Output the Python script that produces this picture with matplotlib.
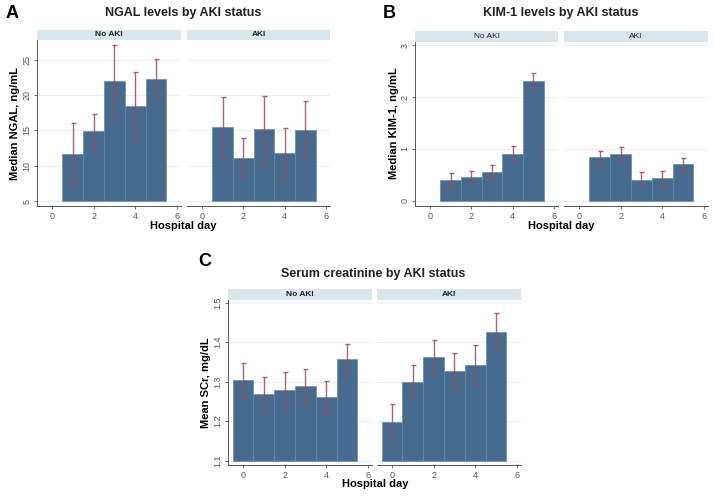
import numpy as np
import matplotlib
matplotlib.use('Agg')
import matplotlib.pyplot as plt

plt.rcParams['font.family'] = ['Liberation Sans', 'DejaVu Sans']

# Data
ngal_days = [1, 2, 3, 4, 5]
ngal_no = [11.7, 14.9, 22.0, 18.4, 22.3]
ngal_no_lo = [7.4, 12.4, 16.7, 13.6, 19.6]
ngal_no_hi = [16.0, 17.3, 27.1, 23.2, 25.1]
ngal_aki = [15.5, 11.1, 15.2, 11.8, 15.1]
ngal_aki_lo = [11.3, 8.4, 10.4, 8.1, 11.0]
ngal_aki_hi = [19.7, 13.9, 19.9, 15.4, 19.1]

kim_days = [1, 2, 3, 4, 5]
kim_no = [0.40, 0.46, 0.55, 0.91, 2.30]
kim_no_lo = [0.28, 0.34, 0.42, 0.77, 2.15]
kim_no_hi = [0.53, 0.58, 0.69, 1.06, 2.47]
kim_aki = [0.84, 0.90, 0.40, 0.44, 0.71]
kim_aki_lo = [0.72, 0.76, 0.28, 0.32, 0.60]
kim_aki_hi = [0.96, 1.03, 0.55, 0.57, 0.82]

scr_days = [0, 1, 2, 3, 4, 5]
scr_no = [1.304, 1.270, 1.278, 1.288, 1.260, 1.358]
scr_no_lo = [1.257, 1.226, 1.235, 1.243, 1.217, 1.320]
scr_no_hi = [1.348, 1.313, 1.324, 1.333, 1.303, 1.396]
scr_aki = [1.199, 1.300, 1.362, 1.326, 1.343, 1.425]
scr_aki_lo = [1.155, 1.258, 1.319, 1.282, 1.292, 1.378]
scr_aki_hi = [1.244, 1.343, 1.405, 1.373, 1.393, 1.473]

W, H = 715, 497
BAR = '#476b8e'
EDGE = '#6b8aa8'
ERR = '#9c4b5b'
STRIP = '#d8e6ee'
GRID = '#e8eff3'
AXC = '#555555'
TITLE_FS = 9
LAB_FS = 8
TICK_FS = 6.5

fig = plt.figure(figsize=(W / 100, H / 100), dpi=100)
fig.patch.set_facecolor('white')


def px_axes(x0, y0, x1, y1):
    """Axes from pixel box (top-left origin)."""
    return fig.add_axes([x0 / W, 1 - y1 / H, (x1 - x0) / W, (y1 - y0) / H])


def facet(box, strip_h, label, bold_strip, days, vals, lo, hi, base,
          ylim, yticks, first):
    x0, y0, x1, y1 = box
    st = px_axes(x0, y0 - strip_h, x1, y0)
    st.set_facecolor(STRIP)
    st.set_xticks([])
    st.set_yticks([])
    for s in st.spines.values():
        s.set_visible(False)
    st.text(0.5, 0.5, label, ha='center', va='center', fontsize=6,
            fontweight='bold' if bold_strip else 'normal', color='#222222')

    ax = px_axes(x0, y0, x1, y1)
    vals = np.array(vals)
    ax.bar(days, vals - base, width=1, bottom=base, color=BAR,
           edgecolor=EDGE, linewidth=0.5, zorder=2)
    ax.errorbar(days, vals, yerr=[vals - np.array(lo), np.array(hi) - vals],
                fmt='none', ecolor=ERR, elinewidth=1.0, capsize=1.8,
                capthick=1.0, alpha=0.85, zorder=3)
    ax.set_xlim(-0.72, 6.2)
    ax.set_ylim(*ylim)
    ax.set_xticks([0, 2, 4, 6])
    ax.set_yticks(yticks)
    ax.grid(axis='y', color=GRID, linewidth=0.8, zorder=0)
    ax.set_axisbelow(True)
    for s in ['top', 'right']:
        ax.spines[s].set_visible(False)
    ax.spines['bottom'].set_color(AXC)
    ax.spines['bottom'].set_linewidth(0.7)
    ax.tick_params(axis='x', labelsize=TICK_FS, colors=AXC, length=2.5,
                   width=0.6, pad=1.5)
    if first:
        ax.spines['left'].set_color(AXC)
        ax.spines['left'].set_linewidth(0.7)
        ax.tick_params(axis='y', labelsize=TICK_FS, colors=AXC, length=2.5,
                       width=0.6, pad=1.5)
        for t in ax.get_yticklabels():
            t.set_rotation(90)
            t.set_va('center')
    else:
        ax.spines['left'].set_visible(False)
        ax.tick_params(axis='y', left=False, labelleft=False)
    return ax


def labels(title, tx, ty, letter, lx, ly, ylab, yx, yy, xx, xy):
    fig.text(tx / W, 1 - ty / H, title, ha='center', va='center',
             fontsize=TITLE_FS, fontweight='bold', color='#222222')
    fig.text(lx / W, 1 - ly / H, letter, ha='left', va='center',
             fontsize=13, fontweight='bold')
    fig.text(yx / W, 1 - yy / H, ylab, ha='center', va='center',
             rotation=90, fontsize=LAB_FS, fontweight='bold')
    fig.text(xx / W, 1 - xy / H, 'Hospital day', ha='center', va='center',
             fontsize=LAB_FS, fontweight='bold')


# Panel A
facet((37, 40, 181, 206), 10, 'No AKI', True, ngal_days, ngal_no,
      ngal_no_lo, ngal_no_hi, 5, (4.3, 27.8), [5, 10, 15, 20, 25], True)
facet((187, 40, 330, 206), 10, 'AKI', True, ngal_days, ngal_aki,
      ngal_aki_lo, ngal_aki_hi, 5, (4.3, 27.8), [5, 10, 15, 20, 25], False)
labels('NGAL levels by AKI status', 183, 13, 'A', 6, 13,
       'Median NGAL, ng/mL', 15, 123, 183, 226)

# Panel B
facet((415, 42, 558, 206), 11, 'No AKI', False, kim_days, kim_no,
      kim_no_lo, kim_no_hi, 0, (-0.1, 3.06), [0, 1, 2, 3], True)
facet((564, 42, 708, 206), 11, 'AKI', False, kim_days, kim_aki,
      kim_aki_lo, kim_aki_hi, 0, (-0.1, 3.06), [0, 1, 2, 3], False)
labels('KIM-1 levels by AKI status', 561, 13, 'B', 383, 13,
       'Median KIM-1, ng/mL', 394, 123, 561, 226)

# Panel C
facet((228, 300, 372, 465), 11, 'No AKI', True, scr_days, scr_no,
      scr_no_lo, scr_no_hi, 1.1, (1.089, 1.507), [1.1, 1.2, 1.3, 1.4, 1.5],
      True)
facet((377, 300, 521, 465), 11, 'AKI', True, scr_days, scr_aki,
      scr_aki_lo, scr_aki_hi, 1.1, (1.089, 1.507), [1.1, 1.2, 1.3, 1.4, 1.5],
      False)
labels('Serum creatinine by AKI status', 373, 274, 'C', 198, 262,
       'Mean SCr, mg/dL', 206, 383, 375, 484)

fig.savefig('out.png', dpi=100)
